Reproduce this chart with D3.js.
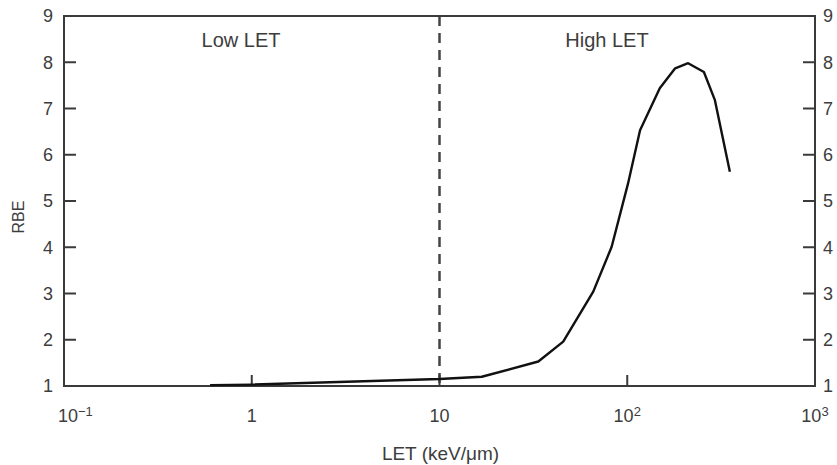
<!DOCTYPE html>
<html>
<head>
<meta charset="utf-8">
<script src="https://cdn.jsdelivr.net/npm/d3@7"></script>
<style>
  body { margin: 0; background: #fff; }
  text { font-family: "Liberation Sans", Arial, sans-serif; fill: #3d3d3d; }
</style>
</head>
<body>
<div id="GraphHolder"></div>
<script>
// curve: LET (keV/um) and RBE
var letValues = [0.6, 1, 10, 16.8, 33.6, 45.6, 65.9, 82.6, 101, 117, 149, 180, 211, 256, 293, 352];
var rbeValues = [1.02, 1.03, 1.15, 1.2, 1.53, 1.96, 3.04, 4.01, 5.38, 6.53, 7.44, 7.87, 7.98, 7.79, 7.18, 5.63];

// axis ticks
var xTicks = [0.1, 1, 10, 100, 1000];
var xTickLabels = [["10", "\u22121"], ["1", ""], ["10", ""], ["10", "2"], ["10", "3"]];
var yTicks = [1, 2, 3, 4, 5, 6, 7, 8, 9];
var boundaryLET = 10;

var margin = {top: 16, right: 22, bottom: 79, left: 64},
    width = 837 - margin.left - margin.right,
    height = 465 - margin.top - margin.bottom;

var svg = d3.select("#GraphHolder").append("svg")
    .attr("width", 837)
    .attr("height", 465)
    .append("g")
    .attr("transform", "translate(" + margin.left + "," + margin.top + ")");

var x = d3.scaleLog().domain([0.1, 1000]).range([0, width]);
var y = d3.scaleLinear().domain([1, 9]).range([height, 0]);

var axisColor = "#3a3a3a";

// dashed boundary between low and high LET
svg.append("line")
    .attr("x1", x(boundaryLET)).attr("x2", x(boundaryLET))
    .attr("y1", 0).attr("y2", height)
    .style("stroke", "#444")
    .style("stroke-width", 2.5)
    .style("stroke-dasharray", "10,7");

// inward ticks on x
svg.selectAll(".xtick")
    .data(xTicks.slice(1, -1))
    .enter().append("line")
    .attr("class", "xtick")
    .attr("x1", function(d) { return x(d); })
    .attr("x2", function(d) { return x(d); })
    .attr("y1", height).attr("y2", height - 11)
    .style("stroke", axisColor).style("stroke-width", 2);

// inward ticks on both y sides
var inner = yTicks.slice(1, -1);
svg.selectAll(".ytickl")
    .data(inner)
    .enter().append("line")
    .attr("x1", 0).attr("x2", 12)
    .attr("y1", function(d) { return y(d); })
    .attr("y2", function(d) { return y(d); })
    .style("stroke", axisColor).style("stroke-width", 2);
svg.selectAll(".ytickr")
    .data(inner)
    .enter().append("line")
    .attr("x1", width).attr("x2", width - 12)
    .attr("y1", function(d) { return y(d); })
    .attr("y2", function(d) { return y(d); })
    .style("stroke", axisColor).style("stroke-width", 2);

// y labels
svg.selectAll(".ylabl")
    .data(yTicks)
    .enter().append("text")
    .attr("x", -11)
    .attr("y", function(d) { return y(d); })
    .attr("dy", "0.36em")
    .style("text-anchor", "end")
    .style("font-size", "18px")
    .text(function(d) { return d; });
svg.selectAll(".ylabr")
    .data(yTicks)
    .enter().append("text")
    .attr("x", width + 8)
    .attr("y", function(d) { return y(d); })
    .attr("dy", "0.36em")
    .style("text-anchor", "start")
    .style("font-size", "18px")
    .text(function(d) { return d; });

// x labels with superscripts (first one nudged inside like the original)
var xl = svg.selectAll(".xlab")
    .data(xTicks)
    .enter().append("text")
    .attr("x", function(d, i) { return i === 0 ? x(d) - 6 : x(d); })
    .attr("y", height + 36)
    .style("text-anchor", function(d, i) { return i === 0 ? "start" : "middle"; })
    .style("font-size", "18px");
xl.append("tspan").text(function(d, i) { return xTickLabels[i][0]; });
xl.append("tspan")
    .attr("dy", "-0.45em")
    .style("font-size", "13px")
    .text(function(d, i) { return xTickLabels[i][1]; });

// plot box
svg.append("rect")
    .attr("x", 0).attr("y", 0)
    .attr("width", width).attr("height", height)
    .style("fill", "none")
    .style("stroke", axisColor)
    .style("stroke-width", 2);

// curve
var line = d3.line()
    .x(function(d, i) { return x(letValues[i]); })
    .y(function(d) { return y(d); });
svg.append("path")
    .datum(rbeValues)
    .attr("d", line)
    .style("fill", "none")
    .style("stroke", "#111")
    .style("stroke-width", 2.4)
    .style("stroke-linejoin", "round");

// region labels
svg.append("text")
    .attr("x", x(0.877)).attr("y", 31)
    .style("text-anchor", "middle")
    .style("font-size", "20px")
    .text("Low LET");
svg.append("text")
    .attr("x", x(78)).attr("y", 31)
    .style("text-anchor", "middle")
    .style("font-size", "20px")
    .text("High LET");

// axis titles
svg.append("text")
    .attr("x", width / 2 + 1).attr("y", height + 74)
    .style("text-anchor", "middle")
    .style("font-size", "19px")
    .text("LET (keV/\u03bcm)");
svg.append("text")
    .attr("transform", "rotate(-90)")
    .attr("x", -(height / 2) - 16).attr("y", -40)
    .style("text-anchor", "middle")
    .style("font-size", "16px")
    .text("RBE");
</script>
</body>
</html>
